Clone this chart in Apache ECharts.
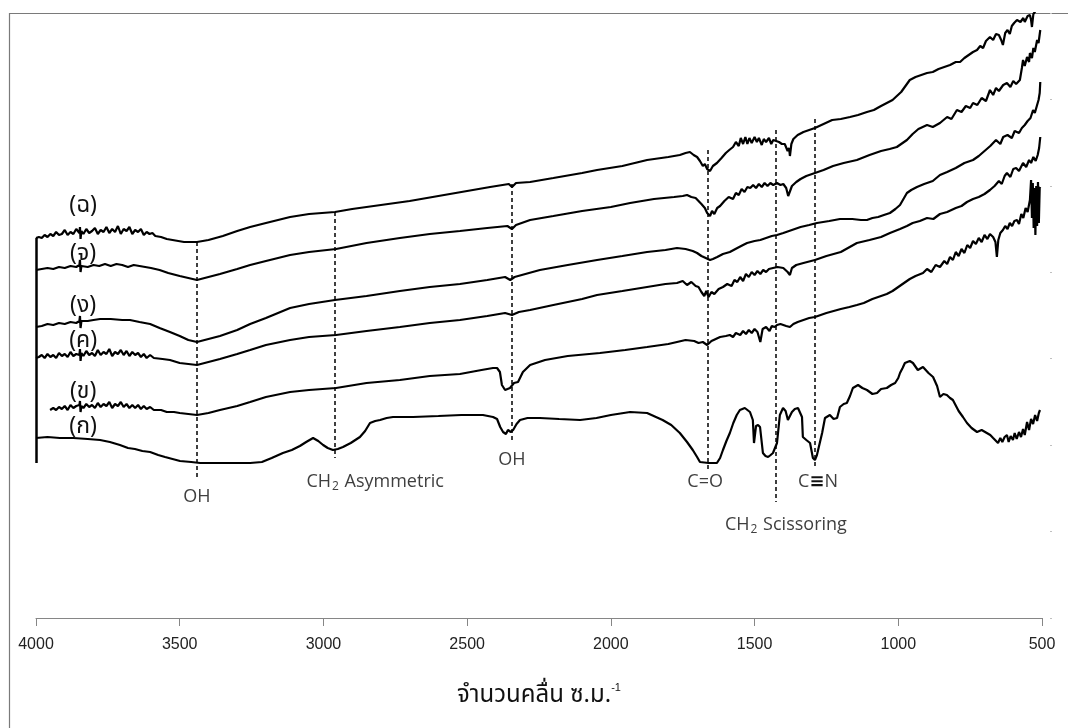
<!DOCTYPE html>
<html>
<head>
<meta charset="utf-8">
<script src="https://cdn.jsdelivr.net/npm/echarts@6/dist/echarts.min.js"></script>
<style>
html,body{margin:0;padding:0;background:#fff;}
#chart{width:1068px;height:728px;}
</style>
</head>
<body>
<div id="chart"></div>
<script>
// ---- Data (wavenumber cm^-1, transmittance in arbitrary stacked units) ----
const xTicks = [500, 1000, 1500, 2000, 2500, 3000, 3500, 4000];
const seriesNames = ['(ก)', '(ข)', '(ค)', '(ง)', '(จ)', '(ฉ)'];

const specA = [[4000,180],[3960,181],[3917,180],[3870,180],[3820,179],[3777,178],[3743,176],[3708,173],[3680,170],[3656,169],[3630,167],[3603,166],[3575,163],[3551,161],[3525,159],[3499,157],[3460,156],[3429,155],[3380,155],[3330,155],[3255,155],[3214,156],[3180,160],[3141,165],[3110,168],[3082,172],[3060,176],[3036,180],[3018,177],[3001,173],[2985,170],[2967,168],[2950,169],[2932,171],[2905,175],[2873,181],[2855,187],[2838,195],[2820,197],[2803,198],[2780,200],[2758,201],[2688,201],[2600,202],[2520,203],[2445,203],[2410,201],[2396,199],[2385,191],[2375,186],[2365,184],[2358,188],[2348,186],[2340,188],[2328,194],[2316,198],[2290,200],[2247,200],[2180,199],[2107,198],[2050,200],[2000,203],[1933,206],[1874,205],[1820,198],[1790,193],[1760,185],[1735,176],[1715,168],[1700,161],[1690,156],[1660,155],[1631,155],[1620,160],[1610,168],[1598,177],[1586,185],[1574,195],[1562,203],[1551,208],[1534,210],[1516,206],[1506,198],[1502,175],[1495,192],[1488,193],[1481,191],[1471,165],[1462,162],[1453,161],[1444,163],[1436,165],[1422,175],[1412,203],[1401,210],[1392,207],[1384,198],[1370,206],[1360,209],[1349,210],[1335,201],[1332,181],[1320,178],[1307,175],[1297,160],[1290,158],[1283,163],[1265,185],[1255,200],[1238,203],[1225,199],[1213,200],[1203,211],[1190,214],[1179,215],[1168,222],[1158,230],[1140,233],[1125,230],[1109,228],[1090,224],[1074,225],[1060,229],[1040,230],[1025,233],[1011,235],[1000,240],[994,245],[985,250],[977,255],[960,257],[949,255],[932,248],[914,251],[895,245],[879,241],[865,232],[855,221],[843,224],[831,223],[820,220],[810,218],[790,207],[775,201],[761,195],[745,190],[726,186],[710,188],[692,185],[680,183],[670,180],[664,178],[653,175],[645,180],[638,176],[630,181],[622,183],[616,176],[609,182],[601,178],[595,185],[588,179],[580,186],[573,181],[566,189],[560,183],[552,196],[545,188],[538,199],[531,194],[524,203],[517,197],[511,205],[507,208]];

const specB = [[3951,208],[3940,210],[3930,208],[3920,211],[3910,209],[3900,212],[3890,208],[3880,213],[3870,210],[3860,212],[3849,213],[3847,217],[3845,206],[3842,212],[3835,210],[3825,214],[3815,211],[3805,213],[3795,210],[3785,215],[3775,211],[3765,214],[3755,212],[3745,216],[3735,210],[3725,214],[3715,212],[3705,216],[3695,211],[3685,214],[3675,210],[3665,213],[3655,210],[3645,213],[3635,209],[3625,212],[3615,209],[3603,211],[3590,208],[3565,208],[3545,206],[3520,206],[3500,205],[3470,204],[3440,203],[3400,205],[3360,208],[3300,212],[3255,216],[3200,221],[3116,226],[3050,228],[2956,230],[2850,235],[2734,238],[2630,242],[2525,244],[2450,248],[2410,250],[2396,250],[2386,246],[2379,233],[2368,228],[2351,230],[2337,235],[2323,236],[2306,246],[2281,253],[2229,258],[2150,262],[2038,265],[1950,268],[1874,271],[1800,274],[1740,278],[1710,277],[1695,275],[1680,276],[1665,273],[1650,277],[1635,279],[1620,281],[1600,282],[1586,283],[1575,281],[1565,285],[1550,283],[1540,287],[1530,284],[1520,288],[1510,285],[1500,289],[1490,286],[1480,276],[1472,289],[1460,291],[1448,287],[1440,292],[1430,291],[1422,293],[1410,294],[1400,293],[1390,292],[1377,291],[1365,294],[1350,296],[1330,298],[1310,300],[1290,301],[1270,303],[1250,305],[1225,307],[1200,309],[1170,311],[1144,313],[1120,315],[1090,319],[1060,322],[1040,324],[1020,327],[1000,331],[980,335],[960,339],[940,342],[914,345],[900,349],[885,346],[870,353],[855,351],[840,357],[830,354],[820,361],[810,358],[800,366],[790,362],[780,369],[770,365],[760,373],[750,370],[740,377],[730,374],[720,380],[710,376],[700,383],[690,379],[681,384],[670,381],[662,376],[657,361],[652,378],[645,385],[636,388],[628,392],[620,389],[612,395],[604,392],[596,397],[587,398],[580,394],[572,404],[565,400],[557,410],[550,406],[542,418],[538,438],[535,400],[532,435],[529,390],[526,430],[523,383],[520,432],[517,392],[514,436],[511,395],[508,430],[506,431]];

const specC = [[4000,260],[3990,261],[3980,263],[3970,260],[3960,264],[3950,261],[3940,263],[3930,260],[3920,265],[3910,262],[3900,264],[3890,261],[3880,266],[3870,262],[3860,264],[3849,263],[3847,269],[3845,257],[3842,265],[3835,262],[3825,267],[3815,263],[3805,265],[3795,262],[3785,268],[3775,263],[3765,266],[3755,264],[3745,269],[3735,262],[3725,266],[3715,264],[3705,268],[3695,263],[3685,267],[3675,262],[3665,266],[3655,263],[3645,265],[3635,261],[3625,264],[3615,260],[3603,263],[3590,260],[3560,259],[3534,258],[3500,255],[3470,254],[3440,253],[3400,256],[3360,259],[3300,264],[3255,268],[3200,273],[3116,278],[3050,281],[2956,283],[2850,287],[2734,291],[2630,295],[2525,298],[2430,302],[2368,305],[2344,303],[2320,306],[2281,308],[2200,313],[2100,319],[2048,323],[1960,327],[1874,331],[1810,334],[1770,335],[1750,337],[1735,333],[1720,336],[1705,332],[1695,331],[1685,326],[1675,322],[1668,327],[1660,321],[1650,326],[1640,324],[1625,329],[1610,331],[1595,334],[1580,332],[1570,338],[1560,336],[1550,341],[1540,337],[1530,344],[1520,341],[1510,346],[1500,343],[1490,347],[1480,344],[1470,348],[1460,346],[1450,349],[1436,350],[1420,351],[1400,350],[1385,346],[1377,343],[1370,350],[1355,353],[1330,355],[1290,358],[1250,362],[1200,366],[1144,375],[1100,378],[1060,381],[1029,385],[994,389],[970,392],[950,395],[925,397],[900,400],[878,399],[855,404],[830,406],[800,410],[780,412],[761,416],[740,419],[720,421],[700,424],[681,428],[665,432],[650,437],[640,434],[630,442],[622,445],[610,441],[600,449],[590,450],[580,447],[566,455],[555,451],[545,458],[538,455],[530,461],[522,457],[515,463],[510,470],[506,481]];

const specD = [[4000,291],[3980,292],[3960,294],[3940,293],[3920,295],[3900,294],[3880,296],[3860,295],[3849,297],[3847,302],[3845,290],[3842,297],[3820,297],[3800,298],[3777,299],[3740,299],[3700,298],[3673,298],[3640,296],[3603,294],[3570,290],[3534,286],[3500,282],[3470,278],[3440,276],[3400,279],[3360,282],[3300,288],[3255,294],[3200,300],[3116,310],[3050,314],[2960,318],[2850,322],[2734,327],[2630,331],[2525,334],[2430,338],[2368,341],[2350,338],[2335,341],[2247,348],[2150,353],[2048,358],[1960,362],[1874,366],[1810,368],[1770,370],[1740,369],[1715,367],[1700,365],[1685,362],[1670,360],[1655,358],[1645,359],[1630,361],[1610,364],[1586,366],[1560,370],[1540,373],[1526,375],[1500,377],[1480,378],[1460,380],[1440,382],[1422,383],[1400,385],[1380,387],[1360,389],[1340,391],[1310,393],[1283,395],[1240,397],[1203,399],[1160,399],[1130,398],[1109,398],[1090,400],[1070,401],[1050,403],[1029,405],[1010,409],[994,413],[980,420],[970,425],[955,428],[935,431],[910,434],[880,437],[855,443],[830,446],[800,450],[770,455],[740,458],[720,462],[700,467],[680,472],[660,478],[645,474],[635,481],[620,483],[605,480],[595,487],[580,485],[570,490],[560,493],[550,497],[540,500],[531,508],[525,505],[518,512],[512,518],[508,525],[506,536]];

const specE = [[4000,348],[3980,349],[3960,350],[3940,349],[3920,351],[3900,350],[3880,352],[3860,351],[3849,353],[3847,358],[3845,346],[3842,352],[3820,351],[3800,353],[3780,352],[3760,354],[3740,352],[3720,354],[3700,353],[3680,351],[3660,353],[3640,352],[3620,351],[3600,350],[3570,348],[3540,345],[3500,342],[3470,340],[3440,338],[3400,341],[3360,344],[3300,349],[3255,353],[3200,357],[3116,363],[3050,366],[2956,369],[2850,375],[2734,380],[2630,384],[2525,387],[2430,390],[2360,392],[2344,389],[2330,393],[2281,398],[2200,402],[2100,407],[2000,411],[1933,415],[1850,419],[1780,421],[1750,422],[1735,423],[1720,421],[1705,420],[1695,417],[1685,414],[1673,410],[1665,405],[1655,402],[1648,407],[1640,404],[1630,410],[1620,412],[1605,417],[1590,421],[1575,419],[1565,425],[1555,423],[1545,429],[1535,426],[1525,431],[1515,430],[1505,433],[1495,430],[1485,434],[1475,431],[1465,435],[1455,432],[1445,435],[1435,433],[1422,435],[1410,433],[1400,434],[1390,430],[1383,422],[1377,424],[1370,432],[1355,436],[1340,439],[1320,442],[1290,445],[1260,448],[1227,452],[1190,455],[1144,458],[1100,463],[1060,467],[1030,469],[1005,471],[985,475],[970,478],[950,484],[930,489],[900,493],[880,491],[855,495],[830,501],[815,499],[796,508],[780,506],[765,512],[750,510],[740,515],[725,513],[710,520],[695,517],[681,528],[670,523],[660,530],[650,527],[635,533],[622,535],[610,531],[600,537],[590,534],[577,538],[570,550],[566,558],[560,552],[552,561],[545,556],[542,565],[535,560],[530,570],[525,566],[517,578],[512,575],[506,588]];

const specF = [[4000,380],[3990,381],[3980,380],[3970,383],[3960,381],[3950,384],[3940,382],[3930,386],[3920,383],[3910,384],[3900,388],[3890,383],[3880,386],[3870,384],[3860,389],[3849,385],[3847,391],[3845,379],[3842,387],[3835,384],[3825,389],[3815,385],[3805,387],[3795,390],[3785,384],[3775,388],[3765,386],[3755,391],[3745,385],[3735,389],[3725,386],[3715,392],[3705,384],[3695,389],[3685,387],[3675,391],[3665,384],[3655,388],[3645,386],[3635,389],[3625,383],[3615,386],[3605,384],[3595,385],[3585,382],[3565,381],[3545,379],[3525,378],[3505,377],[3485,376],[3465,376],[3440,376],[3400,378],[3350,382],[3300,387],[3255,391],[3200,395],[3116,401],[3050,404],[2960,406],[2900,409],[2800,413],[2700,417],[2600,422],[2500,427],[2420,431],[2355,434],[2344,431],[2330,435],[2281,436],[2200,440],[2100,445],[2048,448],[1960,452],[1874,458],[1800,461],[1760,463],[1740,465],[1725,466],[1712,463],[1700,461],[1690,457],[1680,452],[1673,454],[1665,449],[1655,447],[1645,452],[1631,455],[1615,460],[1600,465],[1588,468],[1575,471],[1565,476],[1555,472],[1548,480],[1540,474],[1532,481],[1525,474],[1518,480],[1510,475],[1500,481],[1492,476],[1485,480],[1475,473],[1468,479],[1460,476],[1450,480],[1442,474],[1435,478],[1425,477],[1415,476],[1405,474],[1395,474],[1385,467],[1380,470],[1377,462],[1372,474],[1365,479],[1350,483],[1330,486],[1310,488],[1290,490],[1260,494],[1230,498],[1200,499],[1168,501],[1140,503],[1109,506],[1085,508],[1060,512],[1040,515],[1020,518],[1005,522],[990,526],[975,532],[960,538],[940,541],[920,543],[900,545],[880,546],[860,549],[840,551],[820,553],[800,556],[785,556],[770,560],[755,563],[740,566],[726,568],[715,572],[705,570],[695,577],[681,581],[670,578],[660,584],[650,583],[642,578],[636,573],[628,585],[620,588],[612,584],[605,592],[597,595],[587,598],[575,596],[565,600],[560,596],[550,602],[542,603],[538,598],[535,591],[530,604],[525,606],[515,610],[505,612]];

// band marker lines: [wavenumber, top value, bottom value]
const bandLines = [[3440,376,138],[2960,406,160],[2344,434,178],[1662,468,148],[1425,488,116],[1290,499,150]];
// band labels: [text, wavenumber, value]
const bandLabels = [['OH',3440,121],['CH2 Asymmetric',2820,136],['OH',2344,158],['C=O',1672,136],['C≡N',1279,136],['CH2 Scissoring',1391,93]];
// spectrum labels: [wavenumber, value] in order of seriesNames
const nameLabelPos = [[3836,190],[3836,225],[3836,276],[3836,311],[3836,363],[3836,411]];
// left edge bar: [wavenumber, top, bottom]
const edgeBar = [4000,380,155];

const spectra = [specA, specB, specC, specD, specE, specF];

// ---- Chart ----
const chart = echarts.init(document.getElementById('chart'), null, {renderer:'canvas'});
const annoFont = "'Open Sans', 'Noto Sans', sans-serif";
const thaiFont = "'Noto Sans Thai', 'Noto Sans Thai UI', 'Tahoma', 'Noto Sans', sans-serif";

function labelText(t){
  if (t.indexOf('CH2') === 0) return '{n|CH}{s|2}{n|' + t.slice(3) + '}';
  if (t.indexOf('≡') >= 0) { const p = t.split('≡'); return '{n|' + p[0] + '}{b|≡}{n|' + p[1] + '}'; }
  return '{n|' + t + '}';
}

const markLineData = bandLines.map(b => [
  {coord:[b[0], b[1]]}, {coord:[b[0], b[2]]}
]);
markLineData.push([
  {coord:[edgeBar[0], edgeBar[1]], lineStyle:{type:'solid', width:2.5, color:'#000'}},
  {coord:[edgeBar[0], edgeBar[2]]}
]);

const markPointData = bandLabels.map(b => ({
  coord:[b[1], b[2]],
  label:{formatter: labelText(b[0])}
})).concat(nameLabelPos.map((p, i) => ({
  coord:[p[0], p[1]],
  label:{formatter: '{t|' + seriesNames[i] + '}'}
})));

const series = spectra.map((d, i) => ({
  name: seriesNames[i],
  type: 'line',
  data: d,
  showSymbol: false,
  symbol: 'none',
  clip: true,
  lineStyle: {color: '#000', width: 2.2},
  itemStyle: {color: '#000'},
  animation: false,
  z: 3
}));

series[0].markLine = {
  silent: true,
  symbol: ['none','none'],
  animation: false,
  label: {show:false},
  lineStyle: {type:[4,3], color:'#000', width:1.5},
  data: markLineData
};
series[0].markPoint = {
  silent: true,
  animation: false,
  symbol: 'circle',
  symbolSize: 0,
  itemStyle: {color:'rgba(0,0,0,0)'},
  label: {
    show: true,
    position: 'inside',
    rich: {
      n: {fontFamily: annoFont, fontSize: 18, color: '#3f3f3f', lineHeight: 22},
      s: {fontFamily: annoFont, fontSize: 12, color: '#3f3f3f', lineHeight: 22, verticalAlign: 'bottom', padding:[9,1,0,1]},
      b: {fontFamily: 'DejaVu Sans', fontSize: 18, fontWeight: 'bold', color: '#111', lineHeight: 22},
      t: {fontFamily: thaiFont, fontSize: 23, color: '#111', lineHeight: 26}
    }
  },
  data: markPointData
};

const option = {
  backgroundColor: '#fff',
  animation: false,
  grid: {left: 36, right: 26, top: 13, bottom: 110, containLabel: false},
  xAxis: {
    type: 'value',
    inverse: true,
    min: xTicks[0],
    max: xTicks[xTicks.length - 1],
    interval: 500,
    axisLine: {show: true, onZero: false, lineStyle: {color: '#868686', width: 1}},
    axisTick: {show: true, length: 8, lineStyle: {color: '#868686'}},
    axisLabel: {color: '#222', fontSize: 16, fontFamily: "'Liberation Sans', Arial, sans-serif", margin: 19,
      formatter: v => String(v)},
    splitLine: {show: false},
    name: '{t|จำนวนคลื่น ซ.ม.}{sup|-1}',
    nameLocation: 'middle',
    nameGap: 64,
    nameTextStyle: {
      rich: {
        t: {fontFamily: thaiFont, fontSize: 24, color: '#111', lineHeight: 30},
        sup: {fontFamily: 'Liberation Sans', fontSize: 11, color: '#111', verticalAlign: 'top', lineHeight: 12}
      }
    }
  },
  yAxis: {
    type: 'value',
    min: 0,
    max: 605,
    interval: 605 / 7,
    position: 'right',
    offset: 8,
    axisLine: {show: false},
    axisTick: {show: true, length: 2, lineStyle: {color: '#c0c0c0'}},
    axisLabel: {show: false},
    splitLine: {show: false}
  },
  graphic: [{
    type: 'rect',
    silent: true,
    shape: {x: 9.5, y: 13.5, width: 1200, height: 800},
    style: {fill: 'none', stroke: '#7a7a7a', lineWidth: 1.2},
    z: -1
  }],
  series: series
};
chart.setOption(option);
</script>
</body>
</html>
